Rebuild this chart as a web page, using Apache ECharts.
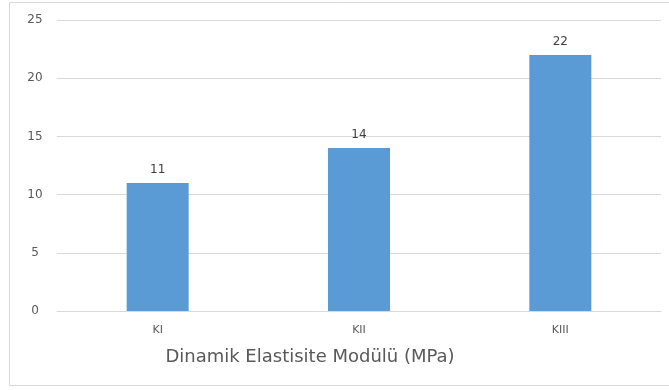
<!DOCTYPE html>
<html>
<head>
<meta charset="utf-8">
<script src="https://cdn.jsdelivr.net/npm/echarts@6/dist/echarts.min.js"></script>
<style>
  html, body { margin: 0; padding: 0; background: #fff; }
  #chart { width: 669px; height: 390px; }
</style>
</head>
<body>
<div id="chart"></div>
<script>
// Dynamic elastic modulus per sample group
const categories = ['KI', 'KII', 'KIII'];
const modulusValues = [11, 14, 22];
const yTicks = { min: 0, max: 25, interval: 5 };
const axisTitle = 'Dinamik Elastisite Modülü (MPa)';

const chart = echarts.init(document.getElementById('chart'), null, { renderer: 'canvas' });

chart.setOption({
  animation: false,
  backgroundColor: '#ffffff',
  textStyle: { fontFamily: 'DejaVu Sans, sans-serif' },
  graphic: [
    {
      type: 'rect',
      shape: { x: 9.5, y: 2.5, width: 680, height: 383 },
      style: { fill: 'none', stroke: '#d9d9d9', lineWidth: 1 },
      silent: true,
      z: -1
    },
    {
      type: 'text',
      x: 310,
      y: 357,
      style: {
        text: axisTitle,
        fill: '#595959',
        font: '18px "DejaVu Sans", sans-serif',
        align: 'center',
        verticalAlign: 'middle'
      },
      silent: true
    }
  ],
  grid: { left: 57, right: 8, top: 20, bottom: 79, containLabel: false },
  xAxis: {
    type: 'category',
    data: categories,
    axisLine: { show: true, lineStyle: { color: '#d9d9d9' } },
    axisTick: { show: false },
    axisLabel: { color: '#595959', fontSize: 11, margin: 14 }
  },
  yAxis: {
    type: 'value',
    min: yTicks.min,
    max: yTicks.max,
    interval: yTicks.interval,
    axisLine: { show: false },
    axisTick: { show: false },
    axisLabel: { color: '#595959', fontSize: 12, margin: 22, align: 'center' },
    splitLine: { lineStyle: { color: '#d9d9d9', width: 1 } }
  },
  series: [{
    type: 'bar',
    data: modulusValues,
    barWidth: 62,
    itemStyle: { color: '#5b9bd5' },
    label: {
      show: true,
      position: 'top',
      distance: 7,
      color: '#404040',
      fontSize: 12
    }
  }]
});
</script>
</body>
</html>
